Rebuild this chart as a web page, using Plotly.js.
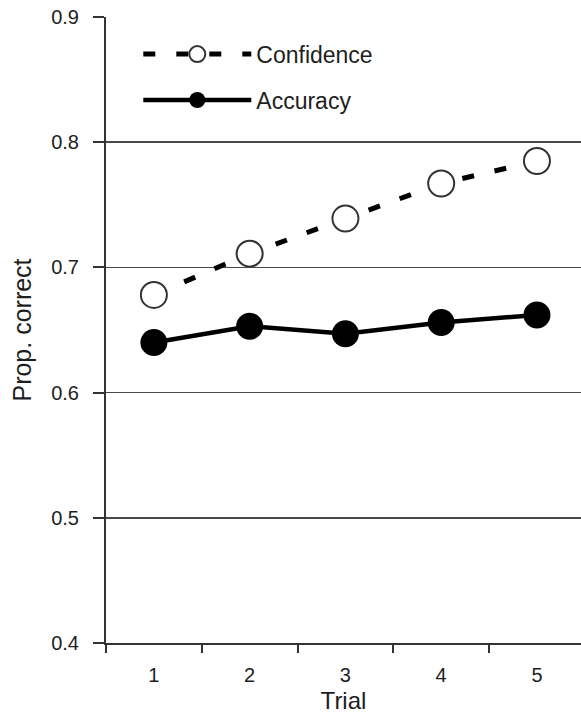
<!DOCTYPE html>
<html>
<head>
<meta charset="utf-8">
<script src="https://cdn.plot.ly/plotly-3.0.1.min.js"></script>
<style>
  html, body { margin: 0; padding: 0; background: #fff; }
  #chart { width: 581px; height: 714px; }
</style>
</head>
<body>
<div id="chart"></div>
<script>
const trials = [1, 2, 3, 4, 5];
const confidence = [0.678, 0.711, 0.739, 0.767, 0.785];
const accuracy = [0.640, 0.653, 0.647, 0.656, 0.662];
const xTickLabels = ['1', '2', '3', '4', '5'];
const xMinorTicks = [0.5, 1.5, 2.5, 3.5, 4.5];
const yTicks = [0.4, 0.5, 0.6, 0.7, 0.8, 0.9];

const FONT = 'Liberation Sans, Arial, Helvetica, sans-serif';
const INK = '#1e1e1e';

const data = [
  {
    x: trials, y: confidence, name: 'Confidence', type: 'scatter', mode: 'lines+markers',
    legendgroup: 'c',
    line: { color: '#000', width: 5, dash: '12px,21px' },
    marker: { symbol: 'circle', size: 26, color: '#fff', line: { color: '#333', width: 2 } }
  },
  {
    x: trials, y: accuracy, name: 'Accuracy', type: 'scatter', mode: 'lines+markers',
    legendgroup: 'a',
    line: { color: '#000', width: 4.5 },
    marker: { symbol: 'circle', size: 27, color: '#000', line: { color: '#000', width: 0 } }
  }
];

const layout = {
  width: 581, height: 714,
  margin: { l: 106, r: 0, t: 17, b: 71 },
  paper_bgcolor: '#fff', plot_bgcolor: '#fff',
  font: { family: FONT, color: INK },
  showlegend: true,
  legend: {
    x: 0.068, y: 0.975, xanchor: 'left', yanchor: 'top',
    bgcolor: 'rgba(0,0,0,0)', borderwidth: 0,
    font: { size: 23, color: INK, family: FONT },
    itemwidth: 108, traceorder: 'grouped', tracegroupgap: 13
  },
  xaxis: {
    range: [0.5, 5.46],
    tickmode: 'array', tickvals: trials, ticktext: xTickLabels,
    ticks: '', showgrid: false, zeroline: false,
    showline: true, linecolor: '#333', linewidth: 2,
    tickfont: { size: 20, color: INK },
    ticklabelstandoff: 13,
    minor: { tickmode: 'array', tickvals: xMinorTicks, ticks: 'outside', ticklen: 8, tickwidth: 2, tickcolor: '#333', showgrid: false },
    title: { text: 'Trial', font: { size: 24, color: INK }, standoff: 11 }
  },
  yaxis: {
    range: [0.4, 0.9],
    tickmode: 'array', tickvals: yTicks,
    tickformat: '.1f',
    ticks: 'outside', ticklen: 11, tickwidth: 2, tickcolor: '#333',
    showgrid: true, gridcolor: '#4a4a4a', gridwidth: 1.6,
    zeroline: false,
    showline: true, linecolor: '#333', linewidth: 2,
    tickfont: { size: 20, color: INK },
    ticklabelstandoff: 10,
    title: { text: 'Prop. correct', font: { size: 25, color: INK }, standoff: 12 }
  }
};

Plotly.newPlot('chart', data, layout, { displayModeBar: false, staticPlot: true });
</script>
</body>
</html>
